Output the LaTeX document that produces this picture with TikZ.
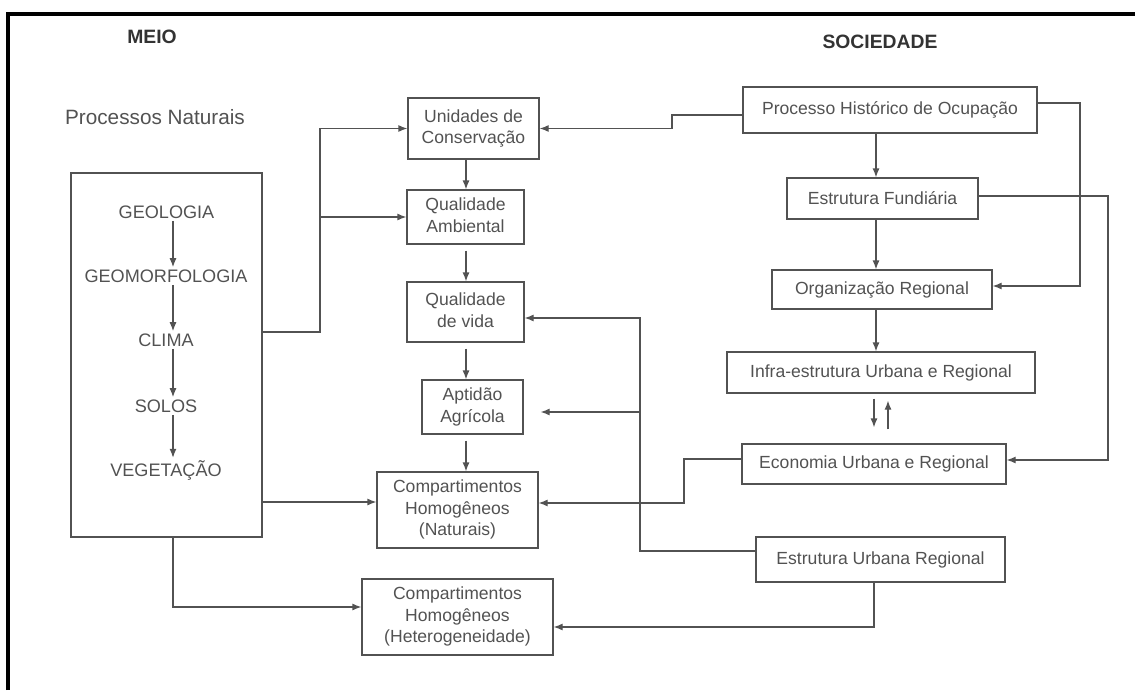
\documentclass[tikz,border=0pt]{standalone}
\usepackage{fontspec}
\setmainfont{Liberation Sans}
\usetikzlibrary{arrows.meta}
\definecolor{ink}{gray}{0.32}

\begin{document}
\begin{tikzpicture}[font = \fontsize{10}{12.2}\selectfont, line width=0.7pt,
        every node/.style = {text=ink},
        box/.style = {draw=ink, inner sep=0pt},
        head/.style = {font=\fontsize{11}{13}\selectfont\bfseries, text=black!80},
        word/.style = {font=\fontsize{10.3}{12}\selectfont, inner sep=1pt},
        link/.style = {draw=ink, -{Latex[length=1.8mm,width=1.4mm]}}]
        \useasboundingbox (0,0) rectangle (22.7,-13.8);
        \draw[line width=1.8pt] (0.16,-13.8) -- (0.16,-0.28) -- (22.7,-0.28);

        \node[head] (a) at (3.04,-0.74) {MEIO};
        \node[head] (b) at (17.60,-0.84) {SOCIEDADE};
        \node[font=\fontsize{11.8}{14}\selectfont] (c) at (3.10,-2.34) {Processos Naturais};

        % meio
        \node[box, minimum width=3.82cm, minimum height=7.28cm] (0) at (3.33,-7.10) {};
        \node[word] (g1) at (3.33,-4.24) {GEOLOGIA};
        \node[word] (g2) at (3.32,-5.52) {GEOMORFOLOGIA};
        \node[word] (g3) at (3.32,-6.80) {CLIMA};
        \node[word] (g4) at (3.32,-8.12) {SOLOS};
        \node[word] (g5) at (3.32,-9.40) {VEGETAÇÃO};

        \node[box, minimum width=2.62cm, minimum height=1.22cm] (1) at (9.47,-2.57) {
            \begin{tabular}{c}
                Unidades de \\
                Conservação \\
            \end{tabular}
        };
        \node[box, minimum width=2.34cm, minimum height=1.08cm] (2) at (9.31,-4.34) {
            \begin{tabular}{c}
                Qualidade \\
                Ambiental \\
            \end{tabular}
        };
        \node[box, minimum width=2.34cm, minimum height=1.20cm] (3) at (9.31,-6.24) {
            \begin{tabular}{c}
                Qualidade \\
                de vida \\
            \end{tabular}
        };
        \node[box, minimum width=2.02cm, minimum height=1.08cm] (4) at (9.45,-8.14) {
            \begin{tabular}{c}
                Aptidão \\
                Agrícola \\
            \end{tabular}
        };
        \node[box, minimum width=3.22cm, minimum height=1.52cm] (5) at (9.15,-10.20) {
            \begin{tabular}{c}
                Compartimentos \\
                Homogêneos \\
                (Naturais) \\
            \end{tabular}
        };
        \node[box, minimum width=3.82cm, minimum height=1.52cm] (6) at (9.15,-12.34) {
            \begin{tabular}{c}
                Compartimentos \\
                Homogêneos \\
                (Heterogeneidade) \\
            \end{tabular}
        };

        % sociedade
        \node[box, minimum width=5.88cm, minimum height=0.92cm] (7) at (17.80,-2.20) {Processo Histórico de Ocupação};
        \node[box, minimum width=3.82cm, minimum height=0.82cm] (8) at (17.65,-3.97) {Estrutura Fundiária};
        \node[box, minimum width=4.40cm, minimum height=0.78cm] (9) at (17.64,-5.79) {Organização Regional};
        \node[box, minimum width=6.16cm, minimum height=0.82cm] (10) at (17.62,-7.45) {Infra-estrutura Urbana e Regional};
        \node[box, minimum width=5.28cm, minimum height=0.80cm] (11) at (17.48,-9.28) {Economia Urbana e Regional};
        \node[box, minimum width=4.98cm, minimum height=0.90cm] (12) at (17.61,-11.19) {Estrutura Urbana Regional};

        \coordinate (geo) at (3.46,0);
        \coordinate (mid) at (9.32,0);
        \coordinate (soc) at (17.52,0);
        \coordinate (dn) at (17.48,0);
        \coordinate (up) at (17.76,0);
        \coordinate (j1) at (6.40,-6.64);
        \coordinate (j2) at (12.80,-8.24);

        \foreach \u/\v in {g1/g2, g2/g3, g3/g4, g4/g5}
            \draw[link] (geo |- \u.south) -- (geo |- \v.north);
        \draw[link] (mid |- 1.south) -- (mid |- 2.north);
        \foreach \u/\v in {2/3, 3/4, 4/5}
            \draw[link, shorten <=0.12cm] (mid |- \u.south) -- (mid |- \v.north);
        \foreach \u/\v in {7/8, 8/9, 9/10}
            \draw[link] (soc |- \u.south) -- (soc |- \v.north);
        \draw[link, shorten <=0.10cm, shorten >=0.32cm] (dn |- 10.south) -- (dn |- 11.north);
        \draw[link, shorten <=0.28cm, shorten >=0.14cm] (up |- 11.north) -- (up |- 10.south);

        % meio -> centro
        \draw[link] (0.east |- j1) -- (j1) |- (1.west);
        \draw[link] (j1) |- (2.west);
        \draw[link] (0.east |- 0,-10.04) -- (5.west |- 0,-10.04);
        \draw[link] (geo |- 0.south) |- (6.west |- 0,-12.14);

        % sociedade -> centro
        \draw[link] (7.west |- 0,-2.30) -- (13.44,-2.30) |- (1.east);
        \draw[link] (7.east |- 0,-2.06) -- (21.60,-2.06) |- (9.east |- 0,-5.72);
        \draw[link] (8.east |- 0,-3.92) -- (22.16,-3.92) |- (11.east |- 0,-9.20);
        \draw[link] (11.west |- 0,-9.18) -- (13.68,-9.18) |- (5.east |- 0,-10.06);
        \draw[link] (12.west |- 0,-11.02) -- (12.80,-11.02) |- (3.east |- 0,-6.36);
        \draw[link, shorten >=0.34cm] (j2) -- (4.east |- j2);
        \draw[link] (dn |- 12.south) |- (6.east |- 0,-12.54);
    \end{tikzpicture}
\end{document}
